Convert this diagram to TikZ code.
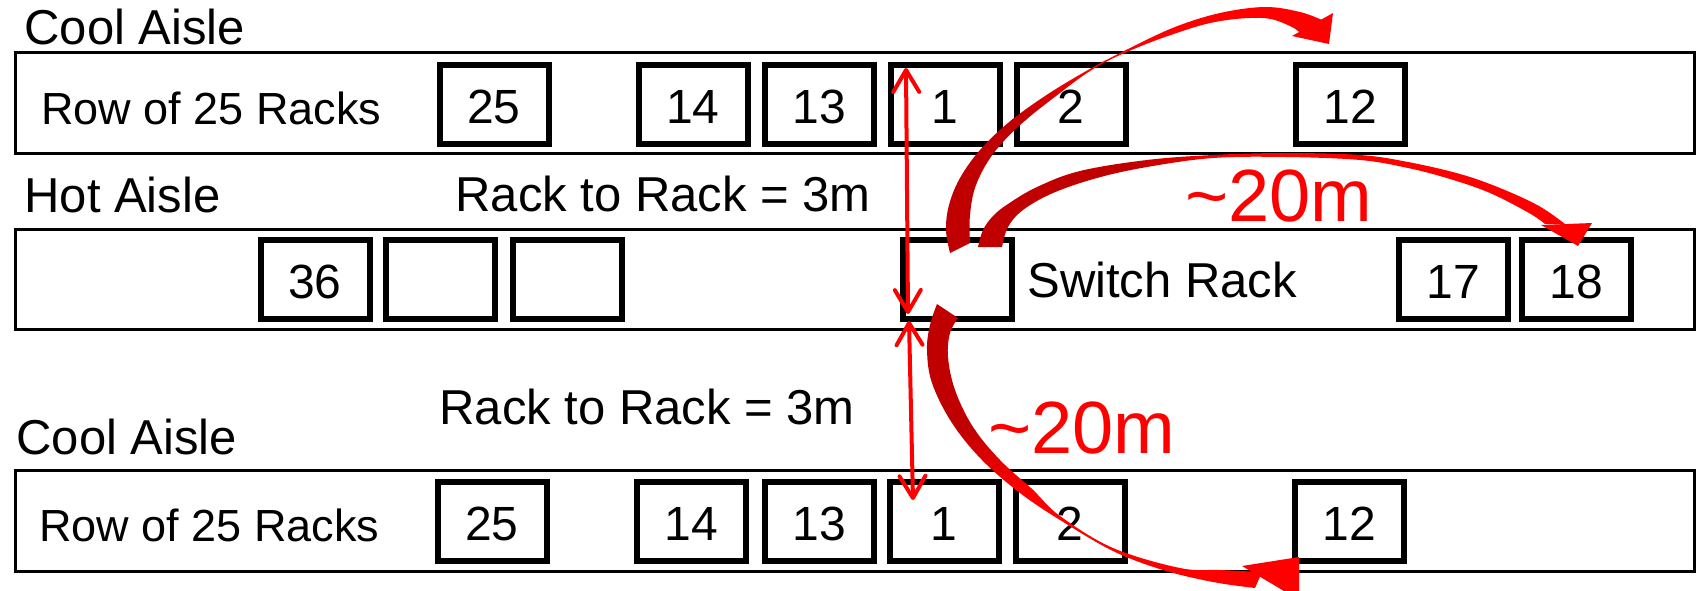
\documentclass[tikz,border=0pt]{standalone}
\usepackage{fontspec}
\setmainfont{Liberation Sans}
\usetikzlibrary{arrows.meta}
\definecolor{arrred}{RGB}{255,0,0}
\definecolor{arrdark}{RGB}{192,0,0}
\begin{document}
\begin{tikzpicture}[x=0.5pt,y=-0.5pt,
  aisle/.style={draw=black,line width=1.5pt,minimum width=839.5pt,inner sep=0pt},
  rack/.style={draw=black,line width=3pt,minimum width=54.5pt,minimum height=39.5pt,inner sep=0pt,
    text height=19pt,text depth=0pt,font=\fontsize{24pt}{24pt}\selectfont},
  lbl/.style={inner sep=0pt,anchor=base west,font=\fontsize{24.5pt}{24.5pt}\selectfont},
  rowlbl/.style={inner sep=0pt,anchor=base west,font=\fontsize{22.5pt}{22.5pt}\selectfont},
  dist/.style={inner sep=0pt,anchor=base west,text=arrred,font=\fontsize{37pt}{37pt}\selectfont},
  thinarr/.style={draw=arrred,line width=2pt,
    arrows={Straight Barb[round,length=11pt,width=13pt]-Straight Barb[round,length=11pt,width=13pt]}}
]
\useasboundingbox (0,0) rectangle (1698,590);
\fill[white] (0,0) rectangle (1698,590);
\clip (0,0) rectangle (1698,590);

% aisles (rows)
\node[aisle,minimum height=50.5pt] (row1) at (854.5,102.5) {};
\node[aisle,minimum height=50pt] (row2) at (854.5,279) {};
\node[aisle,minimum height=50.5pt] (row3) at (854.5,520.5) {};

% row 1 racks
\node[rack] (a25) at (494,104) {25};
\node[rack] (a14) at (693,104) {14};
\node[rack] (a13) at (819,104) {13};
\node[rack] (a1)  at (945,104) {1};
\node[rack] (a2)  at (1071,104) {2};
\node[rack] (a12) at (1350,104) {12};

% row 2 racks
\node[rack] (b36) at (315,279.5) {36};
\node[rack] (be1) at (440.5,279.5) {};
\node[rack] (be2) at (567,279.5) {};
\node[rack] (sw)  at (957.5,279.5) {};
\node[rack] (b17) at (1453.5,279.5) {17};
\node[rack] (b18) at (1576,279.5) {18};

% row 3 racks
\node[rack] (c25) at (492,521.5) {25};
\node[rack] (c14) at (691,521.5) {14};
\node[rack] (c13) at (819,521.5) {13};
\node[rack] (c1)  at (944,521.5) {1};
\node[rack] (c2)  at (1070,521.5) {2};
\node[rack] (c12) at (1349.5,521.5) {12};

% labels
\node[lbl] (cool1) at (24,44) {Cool Aisle};
\node[rowlbl] (rl1) at (41,124) {Row of 25 Racks};
\node[lbl] (hot) at (24,212) {Hot Aisle};
\node[lbl] (rr1) at (455,211) {Rack to Rack = 3m};
\node[lbl] (swl) at (1027,297) {Switch Rack};
\node[lbl] (rr2) at (439,424) {Rack to Rack = 3m};
\node[lbl] (cool2) at (16,454) {Cool Aisle};
\node[rowlbl] (rl3) at (39,541) {Row of 25 Racks};
\node[dist] (d1) at (1185,221) {\textasciitilde20m};
\node[dist] (d2) at (988,453) {\textasciitilde20m};

% thin double arrows
\coordinate (t1a) at (906,68);
\coordinate (t1b) at (908,314);
\coordinate (t2a) at (909,321);
\coordinate (t2b) at (913,500);
\draw[thinarr] (t1a) -- (t1b);
\draw[thinarr] (t2a) -- (t2b);

% big curved arrow A (switch -> row 1, rack 12)
\begin{scope}
\clip plot[smooth,tension=0.6] coordinates {(950,253) (946,230) (949,205) (960,178) (980,150) (1008,123) (1045,96) (1088,70) (1130,48) (1175,27) (1220,13) (1265,7) (1300,12) (1322,20)}
 -- plot[smooth,tension=0.6] coordinates {(1300,33) (1290,26) (1263,18) (1215,22) (1165,37) (1120,55) (1090,71) (1056,96) (1020,125) (993,154) (976,185) (970,215) (970,243)} -- cycle;
\fill[arrdark] (900,118) rectangle (1400,270);
\shade[top color=arrred,bottom color=arrdark] (900,60) rectangle (1400,120);
\fill[arrred] (900,0) rectangle (1400,62);
\end{scope}
\fill[arrred] (1292,36) -- (1333,13) -- (1329,44) -- cycle;

% big curved arrow B (switch -> rack 18)
\begin{scope}
\clip plot[smooth,tension=0.6] coordinates {(978,247) (983,230) (993,216) (1008,204) (1037,187) (1080,171) (1147,160) (1213,155) (1286,153) (1360,155) (1408,162) (1460,174) (1500,188) (1539,206) (1565,224)}
 -- plot[smooth,tension=0.6] coordinates {(1545,224) (1529,213) (1490,193) (1450,179) (1408,168) (1360,160) (1286,157) (1213,158) (1147,167) (1097,178) (1053,193) (1023,210) (1008,227) (1002,247)} -- cycle;
\fill[arrdark] (950,140) rectangle (1132,260);
\shade[left color=arrdark,right color=arrred] (1130,140) rectangle (1230,260);
\fill[arrred] (1228,140) rectangle (1600,260);
\end{scope}
\fill[arrred] (1541,225) -- (1592,223) -- (1578,246) -- cycle;

% big curved arrow C (switch -> row 3, rack 12)
\begin{scope}
\clip plot[smooth,tension=0.6] coordinates {(937,304) (930,325) (927,350) (932,383) (952,423) (982,460) (1020,493) (1060,520) (1113,551) (1163,570) (1213,582) (1255,588)}
 -- plot[smooth,tension=0.6] coordinates {(1262,572) (1220,570) (1180,568) (1113,548) (1060,516) (1033,490) (1000,460) (973,427) (955,390) (948,357) (950,333) (958,318)} -- cycle;
\fill[arrdark] (900,290) rectangle (1300,432);
\shade[top color=arrdark,bottom color=arrred] (900,430) rectangle (1300,490);
\fill[arrred] (900,488) rectangle (1300,600);
\end{scope}
\fill[arrred] (1242,566) -- (1299,557) -- (1299,600) -- cycle;
\end{tikzpicture}
\end{document}
